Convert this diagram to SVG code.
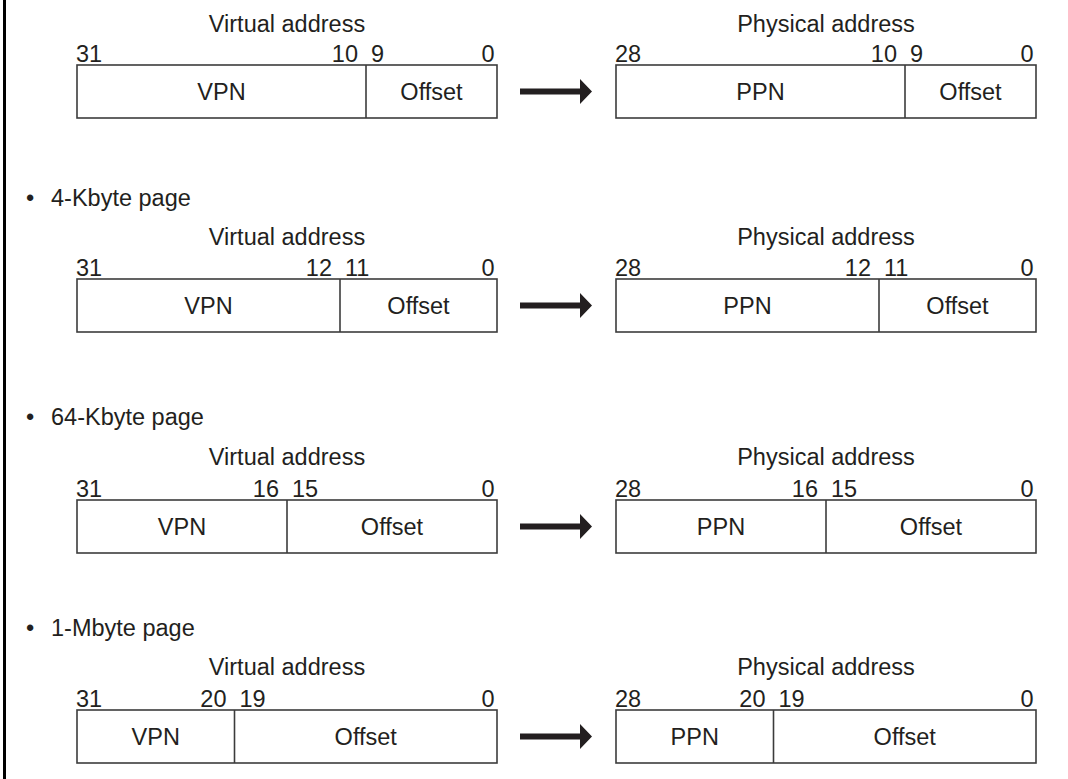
<svg xmlns="http://www.w3.org/2000/svg" width="1068" height="779" viewBox="0 0 1068 779">
<style>
text{font-family:"Liberation Sans",Arial,sans-serif;font-size:23.5px;fill:#231f20}
.m{text-anchor:middle}.e{text-anchor:end}
.box{fill:#fff;stroke:#3c3c3c;stroke-width:1.6}
.div{stroke:#3c3c3c;stroke-width:1.6}
.arr{fill:#231f20}
</style>
<defs>
<path id="arrow" class="arr" d="M520,-3 H580 V-12.5 L592,0 L580,12.5 V3 H520 Z"/>
</defs>
<rect width="1068" height="779" fill="#fff"/>
<line x1="4.5" y1="0" x2="4.5" y2="779" stroke="#000" stroke-width="3"/>

<g id="row1">
<g id="va1">
<text x="287" y="31.5" class="m">Virtual address</text>
<text x="76" y="62">31</text><text x="358" y="62" class="e">10</text><text x="371" y="62">9</text><text x="494.5" y="62" class="e">0</text>
<rect class="box" x="77" y="65" width="420" height="53"/><line class="div" x1="366" y1="65" x2="366" y2="118"/>
<text x="221.5" y="100" class="m">VPN</text><text x="431.5" y="100" class="m">Offset</text>
</g>
<g id="pa1">
<text x="826" y="31.5" class="m">Physical address</text>
<text x="615" y="62">28</text><text x="897" y="62" class="e">10</text><text x="910" y="62">9</text><text x="1033.5" y="62" class="e">0</text>
<rect class="box" x="616" y="65" width="420" height="53"/><line class="div" x1="905" y1="65" x2="905" y2="118"/>
<text x="760.5" y="100" class="m">PPN</text><text x="970.5" y="100" class="m">Offset</text>
</g>
</g>

<g id="row2">
<g id="lbl2"><text x="26" y="206">•</text><text x="51" y="206">4-Kbyte page</text></g>
<g id="va2">
<text x="287" y="244.5" class="m">Virtual address</text>
<text x="76" y="276">31</text><text x="332" y="276" class="e">12</text><text x="345" y="276">11</text><text x="494.5" y="276" class="e">0</text>
<rect class="box" x="77" y="279" width="420" height="53"/><line class="div" x1="340" y1="279" x2="340" y2="332"/>
<text x="208.5" y="314" class="m">VPN</text><text x="418.5" y="314" class="m">Offset</text>
</g>
<g id="pa2">
<text x="826" y="244.5" class="m">Physical address</text>
<text x="615" y="276">28</text><text x="871" y="276" class="e">12</text><text x="884" y="276">11</text><text x="1033.5" y="276" class="e">0</text>
<rect class="box" x="616" y="279" width="420" height="53"/><line class="div" x1="879" y1="279" x2="879" y2="332"/>
<text x="747.5" y="314" class="m">PPN</text><text x="957.5" y="314" class="m">Offset</text>
</g>
</g>

<g id="row3">
<g id="lbl3"><text x="26" y="425">•</text><text x="51" y="425">64-Kbyte page</text></g>
<g id="va3">
<text x="287" y="465" class="m">Virtual address</text>
<text x="76" y="497">31</text><text x="279" y="497" class="e">16</text><text x="292" y="497">15</text><text x="494.5" y="497" class="e">0</text>
<rect class="box" x="77" y="500" width="420" height="53"/><line class="div" x1="287" y1="500" x2="287" y2="553"/>
<text x="182" y="535" class="m">VPN</text><text x="392" y="535" class="m">Offset</text>
</g>
<g id="pa3">
<text x="826" y="465" class="m">Physical address</text>
<text x="615" y="497">28</text><text x="818" y="497" class="e">16</text><text x="831" y="497">15</text><text x="1033.5" y="497" class="e">0</text>
<rect class="box" x="616" y="500" width="420" height="53"/><line class="div" x1="826" y1="500" x2="826" y2="553"/>
<text x="721" y="535" class="m">PPN</text><text x="931" y="535" class="m">Offset</text>
</g>
</g>

<g id="row4">
<g id="lbl4"><text x="26" y="636">•</text><text x="51" y="636">1-Mbyte page</text></g>
<g id="va4">
<text x="287" y="675" class="m">Virtual address</text>
<text x="76" y="707">31</text><text x="226.5" y="707" class="e">20</text><text x="239.5" y="707">19</text><text x="494.5" y="707" class="e">0</text>
<rect class="box" x="77" y="710" width="420" height="53"/><line class="div" x1="234.5" y1="710" x2="234.5" y2="763"/>
<text x="155.75" y="745" class="m">VPN</text><text x="365.75" y="745" class="m">Offset</text>
</g>
<g id="pa4">
<text x="826" y="675" class="m">Physical address</text>
<text x="615" y="707">28</text><text x="765.5" y="707" class="e">20</text><text x="778.5" y="707">19</text><text x="1033.5" y="707" class="e">0</text>
<rect class="box" x="616" y="710" width="420" height="53"/><line class="div" x1="773.5" y1="710" x2="773.5" y2="763"/>
<text x="694.75" y="745" class="m">PPN</text><text x="904.75" y="745" class="m">Offset</text>
</g>
</g>

<g id="connectors">
<use href="#arrow" y="91.5"/>
<use href="#arrow" y="305.5"/>
<use href="#arrow" y="526.5"/>
<use href="#arrow" y="736.5"/>
</g>
</svg>
